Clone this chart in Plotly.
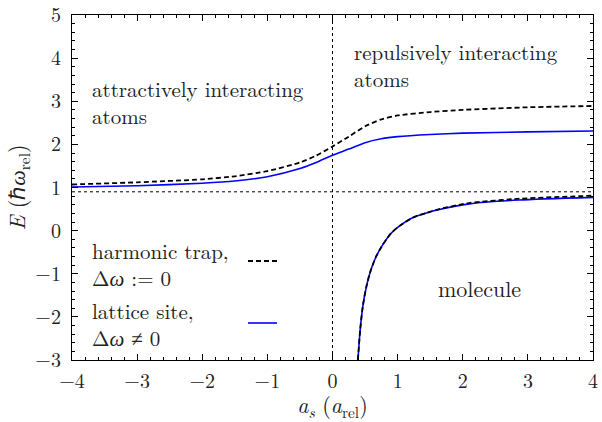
import plotly.graph_objects as go

# upper branch (interacting atoms)
x_up = [-4, -3, -2, -1.5, -1, -0.5, -0.25, 0, 0.25, 0.5, 0.75, 1, 1.5, 2, 3, 4]
e_up_trap = [1.07, 1.12, 1.19, 1.26, 1.38, 1.58, 1.74, 1.95, 2.18, 2.42, 2.58, 2.67, 2.75, 2.80, 2.86, 2.89]
e_up_latt = [1.01, 1.04, 1.10, 1.15, 1.25, 1.44, 1.58, 1.75, 1.89, 2.04, 2.13, 2.18, 2.23, 2.26, 2.29, 2.31]

# lower branch (molecule)
x_lo = [0.39, 0.425, 0.465, 0.52, 0.59, 0.67, 0.77, 0.9, 1.03, 1.23, 1.44, 1.64, 2.1, 2.87, 4]
e_lo_trap = [-3, -2.30, -1.76, -1.30, -0.91, -0.60, -0.33, -0.06, 0.11, 0.30, 0.41, 0.50, 0.64, 0.74, 0.81]
e_lo_latt = [-3, -2.30, -1.76, -1.30, -0.91, -0.60, -0.33, -0.06, 0.11, 0.30, 0.41, 0.49, 0.62, 0.71, 0.77]

h_ref = 0.9
x_ticks = [-4, -3, -2, -1, 0, 1, 2, 3, 4]
y_ticks = [-3, -2, -1, 0, 1, 2, 3, 4, 5]

FONT = "Latin Modern Roman, Liberation Serif, serif"
TXT = "#222"
TS = 22   # single-line text size
MS = 21   # two-line text size
KS = 20   # tick size

fig = go.Figure()
blue = dict(color="#0000ff", width=1.6, shape="spline", smoothing=0.6)
black = dict(color="black", width=1.8, dash="5px,3px", shape="spline", smoothing=0.6)
fig.add_trace(go.Scatter(x=x_up, y=e_up_latt, mode="lines", line=blue, showlegend=False))
fig.add_trace(go.Scatter(x=x_lo, y=e_lo_latt, mode="lines", line=blue, showlegend=False))
fig.add_trace(go.Scatter(x=x_up, y=e_up_trap, mode="lines", line=black, showlegend=False))
fig.add_trace(go.Scatter(x=x_lo, y=e_lo_trap, mode="lines", line=black, showlegend=False))

fig.add_hline(y=h_ref, line=dict(color="black", width=1, dash="dot"), layer="below")
fig.add_vline(x=0, line=dict(color="black", width=1, dash="dot"), layer="below")

W, H = 602, 422
L, R, T, B = 72, 9, 15, 62
pw, ph = W - L - R, H - T - B
def px(xp):
    return (xp - L) / pw
def py(yp):
    return (H - B - yp) / ph

def ann(x, y, text, size, xanchor="left"):
    fig.add_annotation(x=px(x), y=py(y), xref="paper", yref="paper", text=text, showarrow=False,
                       xanchor=xanchor, yanchor="middle", align="left",
                       font=dict(family=FONT, size=size, color=TXT))

ann(90, 101.5, "attractively interacting<br>atoms", MS)
ann(352, 64, "repulsively interacting<br>atoms", MS)
ann(479, 287, "molecule", TS, xanchor="center")
ann(90, 263.5, "harmonic trap,<br>Δ<i>ω</i> := 0", MS)
ann(90, 323.5, "lattice site,<br>Δ<i>ω</i> ≠ 0", MS)

fig.add_shape(type="line", xref="paper", yref="paper", x0=px(248), x1=px(277), y0=py(261), y1=py(261),
              line=dict(color="black", width=1.8, dash="5px,3px"))
fig.add_shape(type="line", xref="paper", yref="paper", x0=px(248), x1=px(277), y0=py(323), y1=py(323),
              line=dict(color="#0000ff", width=1.6))

axis_common = dict(showgrid=False, zeroline=False, showline=True, linecolor="black", linewidth=1.2,
                   mirror="allticks", ticks="inside", ticklen=6, tickcolor="black", tickwidth=1,
                   ticklabeloverflow="allow",
                   tickfont=dict(family=FONT, size=KS, color=TXT))
minus = lambda v: ("−%d" % -v if v < 0 else str(v))
fig.update_xaxes(range=[-4, 4], tickvals=x_ticks, ticktext=[minus(v) for v in x_ticks],
                 minor=dict(ticks="inside", ticklen=3, dtick=0.2, tickcolor="black", showgrid=False),
                 ticklabelstandoff=3,
                 title=dict(text="<i>a<sub>s</sub></i> (<i>a</i><sub>rel</sub>)", font=dict(family=FONT, size=TS, color=TXT), standoff=5),
                 **axis_common)
fig.update_yaxes(range=[-3, 5], tickvals=y_ticks, ticktext=[minus(v) for v in y_ticks],
                 minor=dict(ticks="inside", ticklen=3, dtick=0.2, tickcolor="black", showgrid=False),
                 ticklabelstandoff=6,
                 title=dict(text="<i>E</i> (ℏ<i>ω</i><sub>rel</sub>)", font=dict(family=FONT, size=TS, color=TXT), standoff=8),
                 **axis_common)

fig.update_layout(width=W, height=H, margin=dict(l=L, r=R, t=T, b=B, autoexpand=False),
                  plot_bgcolor="white", paper_bgcolor="white", showlegend=False,
                  font=dict(family=FONT, color=TXT))

fig.write_html("out.html", config={"displayModeBar": False},
               post_script="document.body.style.margin='0';document.body.style.padding='0';document.body.style.overflow='hidden';")
